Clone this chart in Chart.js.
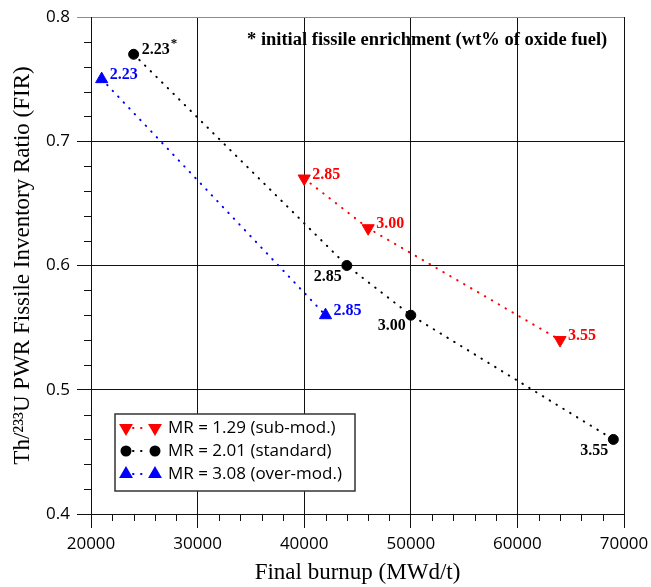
<!DOCTYPE html>
<html>
<head>
<meta charset="utf-8">
<script src="https://cdn.jsdelivr.net/npm/chart.js@4.4.0/dist/chart.umd.min.js"></script>
<style>
  html, body { margin: 0; padding: 0; background: #fff; }
</style>
</head>
<body>
<canvas id="fir-chart" width="651" height="587"></canvas>
<script>
// MR = 1.29 (sub-moderated)
var burnupSub = [40000, 46000, 64000];
var firSub = [0.67, 0.63, 0.54];
var enrichSub = ['2.85', '3.00', '3.55'];

// MR = 2.01 (standard)
var burnupStd = [24000, 44000, 50000, 69000];
var firStd = [0.77, 0.60, 0.56, 0.46];
var enrichStd = ['2.23*', '2.85', '3.00', '3.55'];

// MR = 3.08 (over-moderated)
var burnupOver = [21000, 42000];
var firOver = [0.75, 0.56];
var enrichOver = ['2.23', '2.85'];

var seriesNames = ['MR = 1.29 (sub-mod.)', 'MR = 2.01 (standard)', 'MR = 3.08 (over-mod.)'];
var xTicks = [20000, 30000, 40000, 50000, 60000, 70000];
var yTicks = [0.4, 0.5, 0.6, 0.7, 0.8];
var noteText = '* initial fissile enrichment (wt% of oxide fuel)';

var red = '#ff0000', black = '#000000', blue = '#0000ff';
var dots = [0.5, 7.5];

function toPoints(xs, ys) {
    return xs.map(function (x, i) { return { x: x, y: ys[i] }; });
}

function isMajor(v, list) {
    return list.some(function (m) { return Math.abs(m - v) < 1e-6 * Math.max(1, Math.abs(m)); });
}

function gridColor(list, topValue) {
    return function (c) {
        if (!c.tick || !isMajor(c.tick.value, list)) return 'rgba(0,0,0,0)';
        if (topValue !== undefined && isMajor(c.tick.value, [topValue])) return '#8c8c8c';
        return '#111';
    };
}

Chart.defaults.font.family = '"Open Sans", sans-serif';
Chart.defaults.color = '#000';

// short minor ticks, which chart.js has no option for
var minorTicks = {
    id: 'minorTicks',
    afterDraw: function (chart) {
        var ctx = chart.ctx, area = chart.chartArea;
        var xs = chart.scales.x, ys = chart.scales.y;
        ctx.save();
        ctx.strokeStyle = '#111';
        ctx.lineWidth = 1;
        ctx.beginPath();
        xs.ticks.forEach(function (t) {
            if (isMajor(t.value, xTicks)) return;
            var px = Math.round(xs.getPixelForValue(t.value)) + 0.5;
            ctx.moveTo(px, area.bottom);
            ctx.lineTo(px, area.bottom + 7);
        });
        ys.ticks.forEach(function (t) {
            if (isMajor(t.value, yTicks)) return;
            var py = Math.round(ys.getPixelForValue(t.value)) + 0.5;
            ctx.moveTo(area.left, py);
            ctx.lineTo(area.left - 7, py);
        });
        ctx.stroke();
        ctx.restore();
    }
};

// enrichment labels next to each point
var pointLabels = {
    id: 'pointLabels',
    afterDatasetsDraw: function (chart) {
        var ctx = chart.ctx;
        ctx.save();
        chart.data.datasets.forEach(function (ds, di) {
            var meta = chart.getDatasetMeta(di);
            meta.data.forEach(function (pt, i) {
                var text = ds.enrich[i];
                var star = text.slice(-1) === '*';
                if (star) text = text.slice(0, -1);
                ctx.fillStyle = ds.borderColor;
                ctx.font = 'bold 16px "Liberation Serif", serif';
                ctx.textBaseline = 'middle';
                if (ds.labelSide === 'left' && i > 0) {
                    ctx.textAlign = 'right';
                    ctx.fillText(text, pt.x - 5, pt.y + 11);
                } else {
                    ctx.textAlign = 'left';
                    ctx.fillText(text, pt.x + 8, pt.y - 4);
                    if (star) {
                        var w = ctx.measureText(text).width;
                        ctx.font = 'bold 13px "Liberation Serif", serif';
                        ctx.fillText('*', pt.x + 9 + w, pt.y - 11);
                    }
                }
            });
        });
        ctx.restore();
    }
};

// note at top and legend box inside the plot
var extras = {
    id: 'extras',
    afterDraw: function (chart) {
        var ctx = chart.ctx, area = chart.chartArea;
        ctx.save();
        ctx.fillStyle = '#000';
        ctx.font = 'bold 18.5px "Liberation Serif", serif';
        ctx.textAlign = 'left';
        ctx.textBaseline = 'alphabetic';
        ctx.fillText(noteText, area.left + 156, area.top + 28);

        var bx = area.left + 24, by = area.bottom - 100, bw = 240, bh = 77;
        ctx.fillStyle = '#fff';
        ctx.fillRect(bx, by, bw, bh);
        ctx.strokeStyle = '#333';
        ctx.lineWidth = 1.5;
        ctx.strokeRect(bx, by, bw, bh);

        chart.data.datasets.forEach(function (ds, i) {
            var cy = by + 14 + i * 23;
            var x1 = bx + 11, x2 = bx + 40;
            ctx.strokeStyle = ds.borderColor;
            ctx.lineWidth = 2;
            ctx.lineCap = 'round';
            ctx.setLineDash(dots);
            ctx.beginPath();
            ctx.moveTo(x1 + 7, cy);
            ctx.lineTo(x2 - 6, cy);
            ctx.stroke();
            ctx.setLineDash([]);
            ctx.fillStyle = ds.borderColor;
            var opts = {
                pointStyle: ds.pointStyle,
                rotation: ds.pointRotation || 0,
                radius: ds.pointStyle === 'circle' ? 4.5 : 6,
                borderWidth: 1
            };
            Chart.helpers.drawPoint(ctx, opts, x1, cy);
            Chart.helpers.drawPoint(ctx, opts, x2, cy);
            ctx.fillStyle = '#000';
            ctx.font = '17px "Open Sans", sans-serif';
            ctx.textAlign = 'left';
            ctx.textBaseline = 'middle';
            ctx.fillText(ds.label, bx + 53, cy);
        });
        ctx.restore();
    }
};

var ctx = document.getElementById('fir-chart').getContext('2d');
var chart = new Chart(ctx, {
    type: 'scatter',
    data: {
        datasets: [
            {
                label: seriesNames[0],
                data: toPoints(burnupSub, firSub),
                enrich: enrichSub,
                borderColor: red,
                backgroundColor: red,
                pointStyle: 'triangle',
                pointRotation: 180,
                pointRadius: 7,
                labelSide: 'right'
            },
            {
                label: seriesNames[1],
                data: toPoints(burnupStd, firStd),
                enrich: enrichStd,
                borderColor: black,
                backgroundColor: black,
                pointStyle: 'circle',
                pointRadius: 5,
                labelSide: 'left'
            },
            {
                label: seriesNames[2],
                data: toPoints(burnupOver, firOver),
                enrich: enrichOver,
                borderColor: blue,
                backgroundColor: blue,
                pointStyle: 'triangle',
                pointRadius: 7,
                labelSide: 'right'
            }
        ]
    },
    options: {
        responsive: false,
        animation: false,
        showLine: true,
        layout: { padding: { top: 17, right: 27, left: 0, bottom: 0 } },
        elements: {
            line: { borderWidth: 2, borderDash: dots, borderCapStyle: 'round', tension: 0 },
            point: { borderWidth: 1 }
        },
        plugins: {
            legend: { display: false },
            tooltip: { enabled: false }
        },
        scales: {
            x: {
                type: 'linear',
                min: 20000,
                max: 70000,
                afterFit: function (s) { s.height = 73; s.paddingLeft = 0; s.paddingRight = 0; },
                ticks: {
                    stepSize: 2000,
                    autoSkip: false,
                    maxRotation: 0,
                    padding: 6,
                    font: { size: 17 },
                    callback: function (v) { return isMajor(v, xTicks) ? String(v) : ''; }
                },
                grid: {
                    color: gridColor(xTicks),
                    tickColor: gridColor(xTicks),
                    tickLength: 14,
                    lineWidth: 1
                },
                border: { display: true, color: '#111', width: 1 },
                title: {
                    display: true,
                    text: 'Final burnup (MWd/t)',
                    font: { family: '"Liberation Serif", serif', size: 23 },
                    padding: { top: 0, bottom: 0 }
                }
            },
            y: {
                type: 'linear',
                min: 0.4,
                max: 0.8,
                afterFit: function (s) { s.width = 91; s.paddingTop = 0; s.paddingBottom = 0; },
                ticks: {
                    stepSize: 0.02,
                    autoSkip: false,
                    padding: 7,
                    font: { size: 17 },
                    callback: function (v) { return isMajor(v, yTicks) ? v.toFixed(1) : ''; }
                },
                grid: {
                    color: gridColor(yTicks, 0.8),
                    tickColor: gridColor(yTicks, 0.8),
                    tickLength: 14,
                    lineWidth: 1
                },
                border: { display: true, color: '#111', width: 1 },
                title: {
                    display: true,
                    text: 'Th/²³³U PWR Fissile Inventory Ratio (FIR)',
                    font: { family: '"Liberation Serif", serif', size: 23 },
                    padding: { top: 9, bottom: 0 }
                }
            }
        }
    },
    plugins: [minorTicks, pointLabels, extras]
});
</script>
</body>
</html>
